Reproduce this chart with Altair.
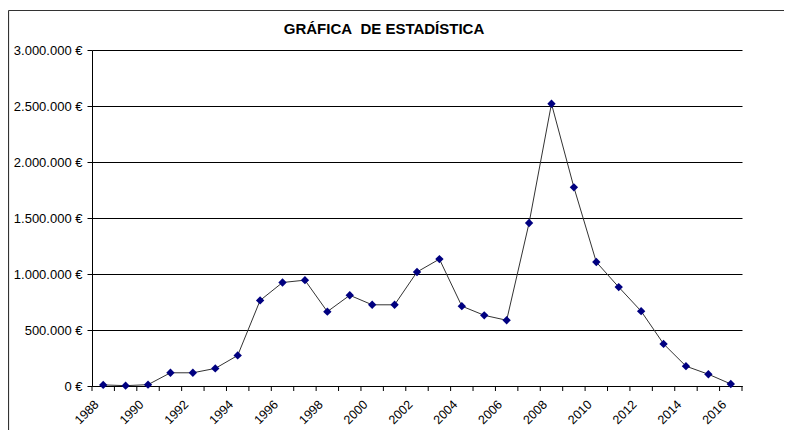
import altair as alt
import pandas as pd

# ---- data ----
years = list(range(1988, 2017))
values = [10000, 3000, 12000, 118000, 118000, 157000, 273000, 764000, 924000, 945000,
          664000, 810000, 725000, 725000, 1018000, 1133000, 713000, 631000, 587000,
          1455000, 2520000, 1774000, 1107000, 883000, 668000, 376000, 177000, 105000, 18000]
y_ticks = [0, 500000, 1000000, 1500000, 2000000, 2500000, 3000000]
x_labels = list(range(1988, 2017, 2))
title_text = "GRÁFICA\u00a0 DE ESTADÍSTICA"

W, H = 650, 336
FONT = "Liberation Sans"

df = pd.DataFrame({"year": years, "value": values})
bounds = pd.DataFrame({"b": [y - 0.5 for y in years] + [years[-1] + 0.5]})
one = pd.DataFrame({"t": [title_text]})

xscale = alt.Scale(domain=[years[0] - 0.5, years[-1] + 0.5], nice=False, zero=False)
yscale = alt.Scale(domain=[y_ticks[0], y_ticks[-1]], nice=False)

xaxis = alt.Axis(values=x_labels, format="d", labelAngle=-45, ticks=False, grid=False,
                 domainColor="#000000", domainWidth=1, labelColor="#000000",
                 labelFont=FONT, labelFontSize=12.5, labelPadding=16, labelOffset=-7,
                 labelAlign="right", labelBaseline="middle", title=None)
yaxis = alt.Axis(values=y_ticks, grid=True, gridColor="#000000", gridWidth=1, gridOpacity=1,
                 tickSize=5, tickColor="#000000", domainColor="#000000",
                 labelColor="#000000", labelFont=FONT, labelFontSize=13, labelPadding=5,
                 labelExpr="replace(format(datum.value, ','), regexp(',', 'g'), '.') + ' €'",
                 title=None)

line = alt.Chart(df).mark_line(color="#333333", strokeWidth=1).encode(
    x=alt.X("year:Q", scale=xscale, axis=xaxis),
    y=alt.Y("value:Q", scale=yscale, axis=yaxis),
)
points = alt.Chart(df).mark_point(shape="diamond", filled=True, color="#000080",
                                  size=70, opacity=1).encode(
    x=alt.X("year:Q", scale=xscale),
    y=alt.Y("value:Q", scale=yscale),
)
ticks = alt.Chart(bounds).mark_rule(color="#000000", strokeWidth=1).encode(
    x=alt.X("b:Q", scale=xscale),
    y=alt.value(H),
    y2=alt.value(H + 5),
)
title = alt.Chart(one).mark_text(font=FONT, fontSize=15, fontWeight="bold",
                                 color="#000000", align="center", baseline="middle").encode(
    text="t:N", x=alt.value(292), y=alt.value(-21))
border_left = alt.Chart(one).mark_rule(color="#333333", strokeWidth=1.2).encode(
    x=alt.value(-83.5), y=alt.value(-39.5), y2=alt.value(H + 80))
border_top = alt.Chart(one).mark_rule(color="#333333", strokeWidth=1.2).encode(
    x=alt.value(-83.5), x2=alt.value(W + 80), y=alt.value(-39.5))

chart = alt.layer(border_left, border_top, line, ticks, points, title).properties(
    width=W, height=H,
    autosize=alt.AutoSizeParams(type="none"),
    padding={"left": 84, "top": 42, "right": 42, "bottom": 44},
).configure_view(stroke=None)

chart.save("out.html", embed_options={"renderer": "svg", "actions": False})
